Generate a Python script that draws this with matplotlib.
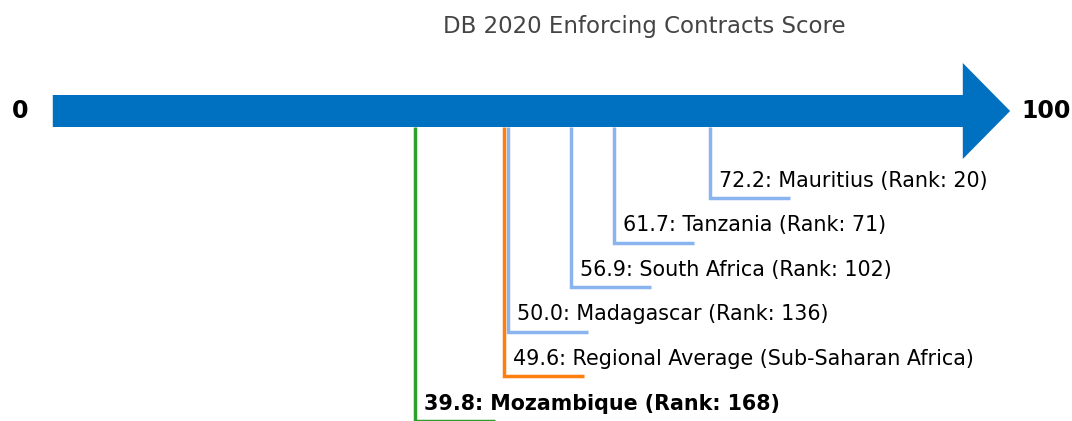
import matplotlib.pyplot as plt

# data
names = ['Mauritius (Rank: 20)', 'Tanzania (Rank: 71)', 'South Africa (Rank: 102)',
         'Madagascar (Rank: 136)', 'Regional Average (Sub-Saharan Africa)', 'Mozambique (Rank: 168)']
scores = [72.2, 61.7, 56.9, 50.0, 49.6, 39.8]
colors = ['#8ab4ee', '#8ab4ee', '#8ab4ee', '#8ab4ee', '#ff7f0e', '#2ca02c']
bold = [False, False, False, False, False, True]

fig = plt.figure(figsize=(10.72, 4.21), dpi=100)
ax = fig.add_axes([0, 0, 1, 1])
ax.set_xlim(-5.8, 112.0)
ax.set_ylim(421, 0)
ax.axis('off')

# the big arrow
arrow_y = 111
ax.arrow(0, arrow_y, 100, 0, width=32, head_width=96, head_length=5.2,
         length_includes_head=False, color='#0070c0', linewidth=0)
ax.text(-3.6, arrow_y, '0', ha='center', va='center', fontsize=17, fontweight='bold')
ax.text(109.1, arrow_y, '100', ha='center', va='center', fontsize=17, fontweight='bold')

# title
ax.text(65, 27, 'DB 2020 Enforcing Contracts Score', ha='center', va='center',
        fontsize=16.5, color='#444444')

# markers for each score
for i in range(len(scores)):
    level = 198 + 44.5 * i
    v = scores[i]
    ax.plot([v, v, v + 8.8], [arrow_y + 16, level, level], color=colors[i],
            linewidth=2.5, solid_joinstyle='miter', solid_capstyle='butt')
    ax.text(v + 1.0, level - 11, '%.1f: %s' % (v, names[i]), ha='left', va='baseline',
            fontsize=14.9, fontweight='bold' if bold[i] else 'normal')

plt.savefig('out.png', dpi=100)
